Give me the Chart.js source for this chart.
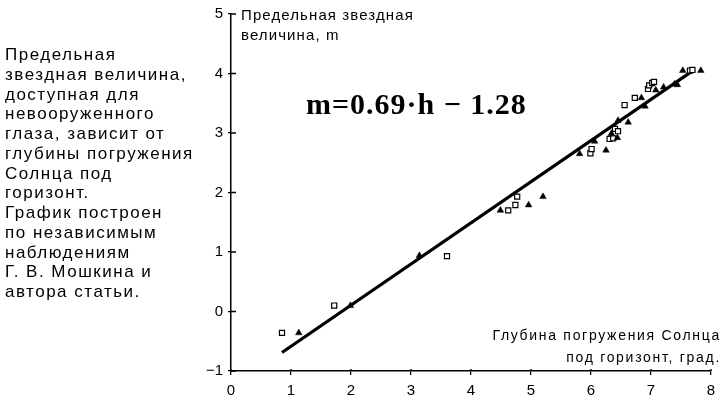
<!DOCTYPE html>
<html><head><meta charset="utf-8">
<script src="https://cdn.jsdelivr.net/npm/chart.js@4"></script>
<style>
html,body{margin:0;padding:0;background:#fff;}
#wrap{position:relative;width:726px;height:398px;overflow:hidden;background:#fff;}
canvas{position:absolute;left:0;top:0;}
.t{position:absolute;font-family:"Liberation Sans",Arial,sans-serif;color:#000;white-space:nowrap;}
</style></head><body>
<div id="wrap">
<canvas id="c" width="726" height="398"></canvas>
<div class="t" style="left:5px;top:45px;font-size:17px;line-height:19.75px;letter-spacing:1.5px;">Предельная<br>звездная величина,<br>доступная для<br>невооруженного<br>глаза, зависит от<br>глубины погружения<br>Солнца под<br>горизонт.<br>График построен<br>по независимым<br>наблюдениям<br>Г. В. Мошкина и<br>автора статьи.</div>
<div class="t" style="left:241px;top:5px;font-size:15px;line-height:20px;letter-spacing:1.1px;">Предельная звездная<br>величина, m</div>
<div class="t" style="right:5px;top:324px;font-size:14px;line-height:22px;text-align:right;letter-spacing:1.7px;">Глубина погружения Солнца<br>под горизонт, град.</div>
<div class="t" style="left:306px;top:87px;font-family:'Liberation Serif',serif;font-weight:bold;font-size:30px;letter-spacing:1px;">m=0.69·h − 1.28</div>
</div>
<script>
// Observer 1 (open squares): depression of Sun h (deg) and limiting magnitude m
const squaresH = [0.85, 1.72, 3.60, 4.62, 4.74, 4.77, 5.99, 6.01, 6.31, 6.37, 6.40, 6.45, 6.56, 6.73, 6.95, 6.97, 7.02, 7.05, 7.65, 7.69];
const squaresM = [-0.36, 0.10, 0.93, 1.70, 1.79, 1.93, 2.66, 2.73, 2.90, 2.91, 3.07, 3.03, 3.47, 3.59, 3.74, 3.80, 3.84, 3.86, 4.05, 4.06];
// Observer 2 (filled triangles)
const trianglesH = [1.13, 1.99, 3.14, 4.49, 4.96, 5.20, 5.81, 6.06, 6.25, 6.34, 6.44, 6.45, 6.62, 6.84, 6.90, 7.08, 7.21, 7.39, 7.44, 7.53, 7.83];
const trianglesM = [-0.36, 0.10, 0.94, 1.70, 1.79, 1.93, 2.65, 2.86, 2.71, 2.99, 2.92, 3.21, 3.18, 3.59, 3.45, 3.72, 3.77, 3.82, 3.81, 4.05, 4.05];
// Fitted line endpoints, m = 0.69·h − 1.28
const fitH = [0.85, 7.73];
const fitM = [-0.69, 4.07];
// Axis ticks
const xTicks = [0, 1, 2, 3, 4, 5, 6, 7, 8];
const yTicks = [-1, 0, 1, 2, 3, 4, 5];
const yTickLabels = ['−1', '0', '1', '2', '3', '4', '5'];

const zip = (xs, ys) => xs.map((x, i) => ({x: x, y: ys[i]}));

const crossTicks = {
  id: 'crossTicks',
  afterDraw(chart) {
    const ctx = chart.ctx, xs = chart.scales.x, ys = chart.scales.y;
    ctx.save();
    ctx.strokeStyle = '#000';
    ctx.lineWidth = 1.3;
    ctx.beginPath();
    yTicks.forEach(v => {
      const py = ys.getPixelForValue(v);
      ctx.moveTo(xs.left, py); ctx.lineTo(xs.left + 5, py);
    });
    xTicks.forEach(v => {
      const px = xs.getPixelForValue(v);
      ctx.moveTo(px, ys.bottom); ctx.lineTo(px, ys.bottom - 2);
    });
    ctx.stroke();
    ctx.restore();
  }
};

new Chart(document.getElementById('c'), {
  type: 'scatter',
  data: {
    datasets: [
      {
        type: 'line',
        data: zip(fitH, fitM),
        borderColor: '#000',
        borderWidth: 3.2,
        pointRadius: 0,
        fill: false,
        order: 2
      },
      {
        data: zip(squaresH, squaresM),
        pointStyle: 'rect',
        pointRadius: 3.6,
        borderColor: '#000',
        backgroundColor: '#fff',
        borderWidth: 1.2,
        order: 1
      },
      {
        data: zip(trianglesH, trianglesM),
        pointStyle: 'triangle',
        pointRadius: 3.8,
        borderColor: '#000',
        backgroundColor: '#000',
        borderWidth: 0.5,
        order: 0
      }
    ]
  },
  options: {
    responsive: false,
    animation: false,
    devicePixelRatio: 1,
    clip: false,
    layout: {padding: {top: 12, right: 15, left: 0, bottom: 0}},
    plugins: {legend: {display: false}, tooltip: {enabled: false}},
    scales: {
      x: {
        type: 'linear', min: 0, max: 8,
        afterBuildTicks: s => { s.ticks = xTicks.map(v => ({value: v})); },
        afterFit: s => { s.height = 27; },
        grid: {display: true, drawOnChartArea: false, drawTicks: true, tickLength: 4, color: '#000', lineWidth: 1.3},
        border: {display: true, color: '#000', width: 1.5},
        ticks: {color: '#000', padding: 7, font: {family: 'Liberation Sans', size: 15}, maxRotation: 0}
      },
      y: {
        type: 'linear', min: -1, max: 5,
        afterBuildTicks: s => { s.ticks = yTicks.map(v => ({value: v})); },
        afterFit: s => { s.width = 231; },
        grid: {display: true, drawOnChartArea: false, drawTicks: true, tickLength: 3, color: '#000', lineWidth: 1.3},
        border: {display: true, color: '#000', width: 1.5},
        ticks: {color: '#000', padding: 5, font: {family: 'Liberation Sans', size: 15},
          callback: v => { const i = yTicks.indexOf(v); return i >= 0 ? yTickLabels[i] : ''; }}
      }
    }
  },
  plugins: [crossTicks]
});
</script>
</body></html>
